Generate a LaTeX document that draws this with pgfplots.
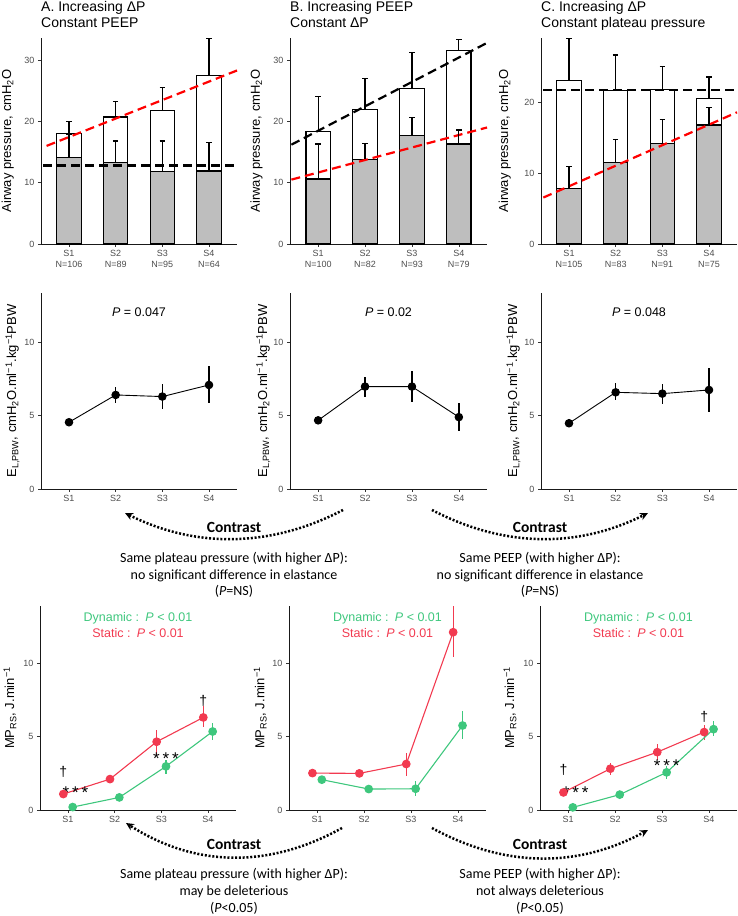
\documentclass[border=0pt]{standalone}
\usepackage{pgfplots}
\pgfplotsset{compat=1.18}
\usepackage{fontspec}
\setmainfont{Liberation Sans}
\newfontfamily\calibri{Carlito}
\usetikzlibrary{arrows.meta}
\definecolor{tickgray}{HTML}{4D4D4D}
\definecolor{barfill}{HTML}{BEBEBE}
\definecolor{statred}{RGB}{242,58,80}
\definecolor{dyngreen}{RGB}{62,199,125}

\pgfplotsset{
  mybase/.style={
    scale only axis, clip=false, anchor=south west,
    axis lines=left,
    axis line style={-, line width=0.9pt, black!90},
    xmin=0.4, xmax=4.6, ymin=0,
    xtick={1,2,3,4},
    tick align=outside, major tick length=3pt,
    every tick/.style={line width=0.7pt, black!80},
    tick label style={text=tickgray, font=\fontsize{9}{11}\selectfont},
    /pgf/number format/assume math mode=true,
    label style={font=\fontsize{13}{15}\selectfont, text=black},
    xticklabel style={align=center},
  },
  row1/.style={mybase, height=206pt, ytick={0,10,20,30}},
  row2/.style={mybase, height=196pt, ymax=13.36, ytick={0,5,10},
    xticklabels={S1,S2,S3,S4},
    ylabel={E\textsubscript{L,PBW}, cmH\textsubscript{2}O.ml\textsuperscript{−1}.kg\textsuperscript{−1}PBW}},
  row3/.style={mybase, height=204pt, ymax=13.93, ytick={0,5,10},
    xticklabels={S1,S2,S3,S4},
    ylabel={MP\textsubscript{RS}, J.min\textsuperscript{−1}}},
  plat/.style={ybar, bar width=0.52, bar shift=0pt, fill=white, draw=black, line width=1.2pt},
  peep/.style={ybar, bar width=0.52, bar shift=0pt, fill=barfill, draw=black, line width=1.2pt},
  errp/.style={draw=none, mark=none, forget plot, error bars/.cd, y dir=plus, y explicit, error mark=|,
    error mark options={line width=1.2pt, mark size=2.8pt, draw=black, solid},
    error bar style={draw=black, line width=1.2pt, solid}},
  dashred/.style={red, line width=2.2pt, dash pattern=on 9pt off 5pt},
  dashblack/.style={black, line width=2.2pt, dash pattern=on 9pt off 5pt},
  elplot/.style={black, line width=0.9pt, mark=*, mark size=3.8pt,
    mark options={solid, fill=black, draw=black},
    error bars/.cd, y dir=both, y explicit, error mark=none,
    error bar style={line width=1.3pt, black}},
  redplot/.style={statred, line width=1.1pt, mark=*, mark size=3.8pt,
    mark options={solid, fill=statred, draw=statred},
    error bars/.cd, y dir=both, y explicit, error mark=none,
    error bar style={line width=1.3pt, statred}},
  greenplot/.style={dyngreen, line width=1.1pt, mark=*, mark size=3.8pt,
    mark options={solid, fill=dyngreen, draw=dyngreen},
    error bars/.cd, y dir=both, y explicit, error mark=none,
    error bar style={line width=1.3pt, dyngreen}},
}
\tikzset{
  title1/.style={anchor=base west, inner sep=0pt, yshift=26.5pt, font=\fontsize{14}{16}\selectfont},
  title2/.style={anchor=base west, inner sep=0pt, yshift=10.5pt, font=\fontsize{14}{16}\selectfont},
  pnote/.style={anchor=base, inner sep=0pt, font=\fontsize{12.5}{14}\selectfont},
  sig/.style={anchor=base, inner sep=0pt, font=\fontsize{14}{16}\selectfont},
  stars/.style={anchor=base, inner sep=0pt, font=\fontsize{17}{19}\selectfont},
  contrast/.style={anchor=base, inner sep=0pt, font=\calibri\bfseries\fontsize{15.5}{18}\selectfont},
  cline/.style={anchor=base, inner sep=0pt, font=\calibri\fontsize{14}{16}\selectfont},
  carrow/.style={line width=2.5pt, dash pattern=on 2pt off 1.8pt, -{Stealth[length=8pt,width=7.5pt]}},
}

\begin{document}
\begin{tikzpicture}
\path[use as bounding box] (0,0) rectangle (737pt,916pt);

%% ---------------- Row 1 ----------------
\begin{axis}[row1, at={(41pt,672pt)}, width=196pt, ymax=33.6,
  xticklabels={{S1\\N=106},{S2\\N=89},{S3\\N=95},{S4\\N=64}},
  ylabel={Airway pressure, cmH\textsubscript{2}O},
  ylabel style={at={(axis description cs:-0.17,0.5)}, anchor=center}]
\addplot[plat] coordinates {(1,18.0) (2,20.7) (3,21.8) (4,27.5)};
\addplot[peep] coordinates {(1,14.1) (2,13.3) (3,11.8) (4,11.9)};
\addplot[dashblack] coordinates {(0.45,12.8) (4.6,12.8)};
\addplot[dashred] coordinates {(0.52,16.0) (4.6,28.3)};
\addplot[errp] coordinates {(1,18.0) +- (0,2.0) (2,20.7) +- (0,2.5) (3,21.8) +- (0,3.7) (4,27.5) +- (0,6.0)};
\addplot[errp] coordinates {(1,14.1) +- (0,3.8) (2,13.3) +- (0,3.5) (3,11.8) +- (0,5.0) (4,11.9) +- (0,4.7)};
\node[title1] at (rel axis cs:0,1) {A. Increasing ΔP};
\node[title2] at (rel axis cs:0,1) {Constant PEEP};
\end{axis}

\begin{axis}[row1, at={(290pt,672pt)}, width=197pt, ymax=33.6,
  xticklabels={{S1\\N=100},{S2\\N=82},{S3\\N=93},{S4\\N=79}},
  ylabel={Airway pressure, cmH\textsubscript{2}O},
  ylabel style={at={(axis description cs:-0.17,0.5)}, anchor=center}]
\addplot[plat] coordinates {(1,18.3) (2,22.0) (3,25.3) (4,31.5)};
\addplot[peep] coordinates {(1,10.6) (2,13.8) (3,17.7) (4,16.3)};
\addplot[dashblack] coordinates {(0.43,16.2) (4.6,32.8)};
\addplot[dashred] coordinates {(0.43,10.5) (4.6,19.0)};
\addplot[errp] coordinates {(1,18.3) +- (0,5.7) (2,22.0) +- (0,5.0) (3,25.3) +- (0,5.9) (4,31.5) +- (0,1.9)};
\addplot[errp] coordinates {(1,10.6) +- (0,5.7) (2,13.8) +- (0,2.6) (3,17.7) +- (0,2.9) (4,16.3) +- (0,2.3)};
\node[title1] at (rel axis cs:0,1) {B. Increasing PEEP};
\node[title2] at (rel axis cs:0,1) {Constant ΔP};
\end{axis}

\begin{axis}[row1, at={(541pt,672pt)}, width=196pt, ymax=29.1, ytick={0,10,20},
  xticklabels={{S1\\N=105},{S2\\N=83},{S3\\N=91},{S4\\N=75}},
  ylabel={Airway pressure, cmH\textsubscript{2}O},
  ylabel style={at={(axis description cs:-0.185,0.5)}, anchor=center}]
\addplot[plat] coordinates {(1,23.07) (2,21.7) (3,21.84) (4,20.5)};
\addplot[peep] coordinates {(1,7.88) (2,11.46) (3,14.2) (4,16.8)};
\addplot[dashblack] coordinates {(0.45,21.8) (4.6,21.8)};
\addplot[dashred] coordinates {(0.45,6.56) (4.6,18.6)};
\addplot[errp] coordinates {(1,23.07) +- (0,6.0) (2,21.7) +- (0,5.0) (3,21.84) +- (0,3.2) (4,20.5) +- (0,3.1)};
\addplot[errp] coordinates {(1,7.88) +- (0,3.1) (2,11.46) +- (0,3.3) (3,14.2) +- (0,3.4) (4,16.8) +- (0,2.5)};
\node[title1] at (rel axis cs:0,1) {C. Increasing ΔP};
\node[title2] at (rel axis cs:0,1) {Constant plateau pressure};
\end{axis}

%% ---------------- Row 2 ----------------
\begin{axis}[row2, at={(41pt,427pt)}, width=196pt,
  ylabel style={at={(axis description cs:-0.145,0.5)}, anchor=center}]
\addplot[elplot] coordinates {(1,4.55) +- (0,0.2) (2,6.41) += (0,0.52) -= (0,0.52) (3,6.3) += (0,0.84) -= (0,0.87) (4,7.09) += (0,1.3) -= (0,1.25)};
\node[pnote] at (axis cs:2.5,11.75) {\textit{P} = 0.047};
\end{axis}

\begin{axis}[row2, at={(290pt,427pt)}, width=197pt,
  ylabel style={at={(axis description cs:-0.135,0.5)}, anchor=center}]
\addplot[elplot] coordinates {(1,4.68) +- (0,0.22) (2,6.98) += (0,0.62) -= (0,0.68) (3,6.98) += (0,1.09) -= (0,1.05) (4,4.9) += (0,0.99) -= (0,0.95)};
\node[pnote] at (axis cs:2.5,11.75) {\textit{P} = 0.02};
\end{axis}

\begin{axis}[row2, at={(541pt,427pt)}, width=196pt,
  ylabel style={at={(axis description cs:-0.14,0.5)}, anchor=center}]
\addplot[elplot] coordinates {(1,4.48) += (0,0.3) -= (0,0.28) (2,6.59) += (0,0.61) -= (0,0.52) (3,6.5) += (0,0.66) -= (0,0.7) (4,6.75) += (0,1.48) -= (0,1.52)};
\node[pnote] at (axis cs:2.5,11.75) {\textit{P} = 0.048};
\end{axis}

%% ---------------- Row 3 ----------------
\begin{axis}[row3, at={(40pt,106pt)}, width=196pt,
  ylabel style={at={(axis description cs:-0.153,0.5)}, anchor=center}]
\addplot[redplot] coordinates {(0.9,1.09) +- (0,0.15) (1.9,2.11) +- (0,0.15) (2.9,4.66) += (0,0.77) -= (0,1.0) (3.9,6.32) += (0,0.75) -= (0,0.68)};
\addplot[greenplot] coordinates {(1.1,0.2) +- (0,0.1) (2.1,0.86) +- (0,0.12) (3.1,2.98) += (0,0.45) -= (0,0.5) (4.1,5.36) +- (0,0.57)};
\node[pnote, text=dyngreen] at (axis cs:2.5,12.85) {Dynamic :\enspace\textit{P} < 0.01};
\node[pnote, text=statred] at (axis cs:2.5,11.8) {Static :\enspace\textit{P} < 0.01};
\node[sig] at (axis cs:0.9,2.3) {†};
\node[stars] at (axis cs:1.16,0.8) {*\,*\,*};
\node[stars] at (axis cs:3.1,3.1) {*\,*\,*};
\node[sig] at (axis cs:3.9,7.15) {†};
\end{axis}

\begin{axis}[row3, at={(289pt,106pt)}, width=197pt,
  ylabel style={at={(axis description cs:-0.146,0.5)}, anchor=center}]
\addplot[redplot] coordinates {(0.9,2.52) +- (0,0.12) (1.9,2.5) +- (0,0.12) (2.9,3.14) += (0,0.75) -= (0,0.8) (3.9,12.14) += (0,1.79) -= (0,1.71)};
\addplot[greenplot] coordinates {(1.1,2.07) +- (0,0.12) (2.1,1.43) +- (0,0.12) (3.1,1.45) += (0,0.5) -= (0,0.47) (4.1,5.77) += (0,0.96) -= (0,0.93)};
\node[pnote, text=dyngreen] at (axis cs:2.5,12.85) {Dynamic :\enspace\textit{P} < 0.01};
\node[pnote, text=statred] at (axis cs:2.5,11.8) {Static :\enspace\textit{P} < 0.01};
\end{axis}

\begin{axis}[row3, at={(540pt,106pt)}, width=197pt,
  ylabel style={at={(axis description cs:-0.152,0.5)}, anchor=center}]
\addplot[redplot] coordinates {(0.9,1.2) +- (0,0.15) (1.9,2.82) += (0,0.38) -= (0,0.42) (2.9,3.95) += (0,0.55) -= (0,0.52) (3.9,5.32) += (0,0.5) -= (0,0.52)};
\addplot[greenplot] coordinates {(1.1,0.18) +- (0,0.1) (2.1,1.05) +- (0,0.12) (3.1,2.57) += (0,0.41) -= (0,0.43) (4.1,5.52) += (0,0.53) -= (0,0.5)};
\node[pnote, text=dyngreen] at (axis cs:2.5,12.85) {Dynamic :\enspace\textit{P} < 0.01};
\node[pnote, text=statred] at (axis cs:2.5,11.8) {Static :\enspace\textit{P} < 0.01};
\node[sig] at (axis cs:0.9,2.4) {†};
\node[stars] at (axis cs:1.16,0.8) {*\,*\,*};
\node[stars] at (axis cs:3.1,2.62) {*\,*\,*};
\node[sig] at (axis cs:3.9,6.05) {†};
\end{axis}

%% ---------------- Contrast annotations ----------------
\draw[carrow] (343pt,406pt) .. controls (270pt,368pt) and (195pt,368pt) .. (125pt,403pt);
\draw[carrow] (432pt,406pt) .. controls (505pt,368pt) and (578pt,368pt) .. (648pt,403pt);
\node[contrast] at (234pt,383pt) {Contrast};
\node[cline] at (234pt,353pt) {Same plateau pressure (with higher ΔP):};
\node[cline] at (234pt,336.5pt) {no significant difference in elastance};
\node[cline] at (234pt,320pt) {(\textit{P}=NS)};
\node[contrast] at (540pt,383pt) {Contrast};
\node[cline] at (540pt,353pt) {Same PEEP (with higher ΔP):};
\node[cline] at (540pt,336.5pt) {no significant difference in elastance};
\node[cline] at (540pt,320pt) {(\textit{P}=NS)};

\draw[carrow] (342pt,88pt) .. controls (270pt,48pt) and (196pt,48pt) .. (126pt,93pt);
\draw[carrow] (432pt,88pt) .. controls (505pt,48pt) and (578pt,48pt) .. (648pt,86pt);
\node[contrast] at (234pt,66pt) {Contrast};
\node[cline] at (234pt,37pt) {Same plateau pressure (with higher ΔP):};
\node[cline] at (234pt,20.5pt) {may be deleterious};
\node[cline] at (234pt,4pt) {(\textit{P}<0.05)};
\node[contrast] at (540pt,66pt) {Contrast};
\node[cline] at (540pt,37pt) {Same PEEP (with higher ΔP):};
\node[cline] at (540pt,20.5pt) {not always deleterious};
\node[cline] at (540pt,4pt) {(\textit{P}<0.05)};
\end{tikzpicture}
\end{document}
